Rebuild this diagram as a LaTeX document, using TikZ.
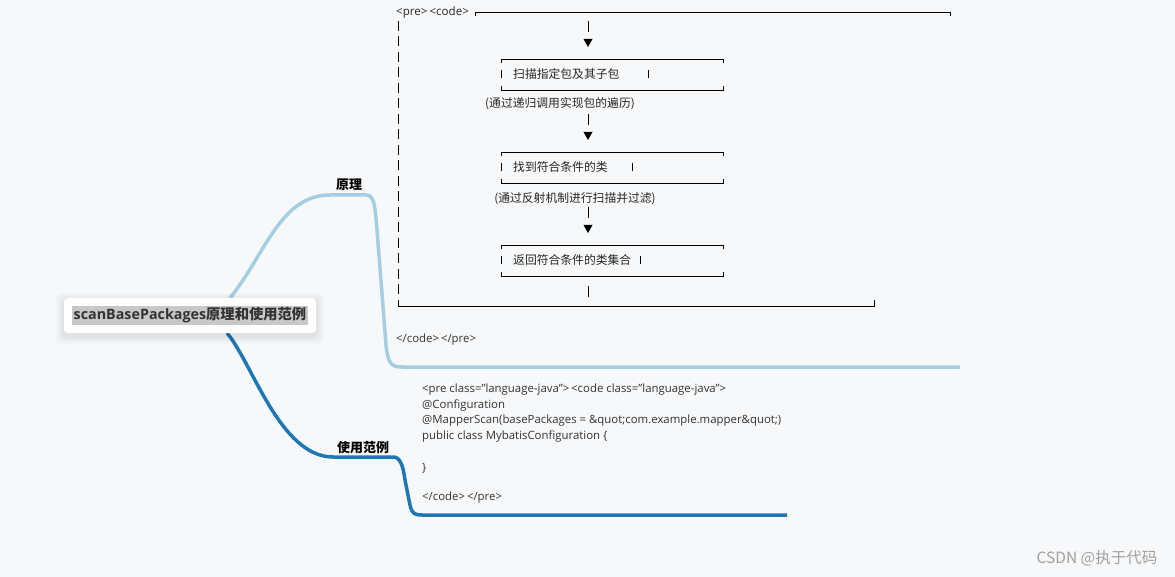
\documentclass[tikz,border=0pt]{standalone}
\usepackage{fontspec}
\setmainfont{Open Sans}
\newfontfamily\cjk{Noto Sans CJK SC}
\usetikzlibrary{positioning}
\definecolor{paper}{HTML}{F7F8FA}
\definecolor{lightbranch}{HTML}{A6CEE3}
\definecolor{darkbranch}{HTML}{1F78B4}
\definecolor{hlgray}{HTML}{C8C8C8}
\definecolor{codegray}{HTML}{333333}
\definecolor{markgray}{HTML}{A0A0A0}
\setlength{\fboxsep}{2pt}
\tikzset{
  code/.style={anchor=west, inner sep=0pt, text=codegray, font=\fontsize{11.4}{13}\selectfont},
  art/.style={anchor=west, inner sep=0pt, text=black!85, font=\cjk\fontsize{11.8}{13}\selectfont},
  artline/.style={line width=0.9pt},
  branchlabel/.style={inner sep=0pt, font=\cjk\bfseries\fontsize{13}{15}\selectfont},
  rootbox/.style={fill=white, rounded corners=4pt, minimum width=252pt, minimum height=35pt, inner sep=0pt, text=black!80}
}
\begin{document}
\begin{tikzpicture}[x=1pt,y=-1pt]
  % -- Background and picture size.
  \fill[paper] (0,0) rectangle (1175,577);
  \useasboundingbox (0,0) rectangle (1175,577);

  % -- Branch ends.
  \coordinate (upstart) at (230,298);
  \coordinate (upend) at (960,367);
  \coordinate (downstart) at (227,333);
  \coordinate (downend) at (787,515);

  % -- The two branches.
  \draw[lightbranch, line width=3.5pt] (upstart) .. controls (265,255) and (280,195) .. (330,195) -- (366,195) .. controls (374,195) and (375,205) .. (377,230) -- (386,345) .. controls (388,362) and (390,367) .. (402,367) -- (upend);
  \draw[darkbranch, line width=3.5pt] (downstart) .. controls (252,362) and (280,457) .. (333,457) -- (393,457) .. controls (400,457) and (403,465) .. (405,480) -- (410,505) .. controls (412,514) and (415,515) .. (422,515) -- (downend);

  % -- Root with its soft shadow.
  \foreach \s in {1,...,8}
    \fill[black, opacity=0.012, rounded corners=6pt] (64-\s,298-\s+3) rectangle (316+\s,333+\s+3);
  \node[rootbox] (root) at (190,315.5) {\colorbox{hlgray}{\bfseries\fontsize{14.3}{16}\selectfont scanBasePackages{\cjk 原理和使用范例}}};

  \node[branchlabel] (principle) at (349,185) {原理};
  \node[branchlabel] (usage) at (363,448) {使用范例};

  % -- The text drawing of the first branch.
  \node[art, font=\fontsize{11.6}{13}\selectfont] (precode) at (396,12.5) {<pre>\,<code>};
  \draw[artline] (475,16.5) -- (475,12) -- (950,12) -- (950,16);
  \draw[artline, dash pattern=on 10pt off 5.5pt] (398,21) -- (398,300);
  \draw[artline] (398,300) -- (398,306) -- (874,306) -- (874,300);

  \foreach \t/\txt/\b [count=\i] in {59/扫描指定包及其子包/648, 152/找到符合条件的类/632, 245/返回符合条件的类集合/640} {
    \draw[artline] (501.5,\t+4) -- (501.5,\t) -- (723,\t) -- (723,\t+4);
    \draw[artline] (501.5,\t+27) -- (501.5,\t+31) -- (723,\t+31) -- (723,\t+27);
    \draw[artline] (501.5,\t+11) -- ++(0,8);
    \draw[artline] (\b,\t+11) -- ++(0,8);
    \node[art] (step\i) at (513,\t+15) {\txt};
  }

  \foreach \y in {27,120,213} {
    \draw[artline] (588,\y-5.5) -- ++(0,11);
    \fill (583.5,\y+12) -- (592.5,\y+12) -- (588,\y+20) -- cycle;
  }
  \draw[artline] (588,286.5) -- ++(0,11);

  \node[art, anchor=center] (via1) at (560,104) {(通过递归调用实现包的遍历)};
  \node[art, anchor=center] (via2) at (575,199) {(通过反射机制进行扫描并过滤)};

  \node[code] (endcode) at (396,340) {</code>\,</pre>};

  % -- Code of the second branch.
  \node[code] (line1) at (422,390) {<pre class="language-java">\,<code class="language-java">};
  \node[code] (line2) at (422,406) {@Configuration};
  \node[code] (line3) at (422,421) {@MapperScan(basePackages = \&quot;com.example.mapper\&quot;)};
  \node[code] (line4) at (422,437) {public class MybatisConfiguration \{};
  \node[code] (line5) at (422,468) {\}};
  \node[code] (line6) at (422,498) {</code>\,</pre>};

  \node[font=\cjk\fontsize{15.5}{17}\selectfont, text=markgray] (mark) at (1097,558) {CSDN @执于代码};
\end{tikzpicture}
\end{document}
